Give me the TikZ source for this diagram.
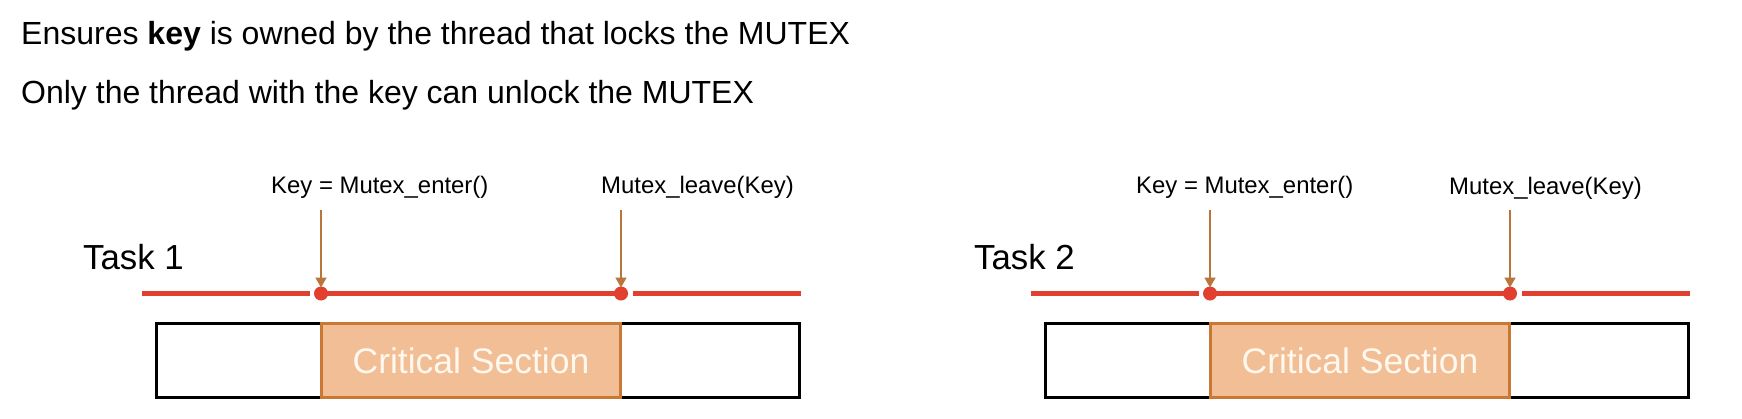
\documentclass[tikz,border=0pt]{standalone}
\usepackage{fontspec}
\setmainfont{Liberation Sans}
\usetikzlibrary{arrows.meta}
\definecolor{redline}{HTML}{E2402F}
\definecolor{arrowc}{HTML}{B8763A}
\definecolor{csfill}{HTML}{F2BE95}
\definecolor{csdraw}{HTML}{C97934}
\definecolor{cstext}{HTML}{FFF8EE}
\begin{document}
\begin{tikzpicture}[x=1pt,y=-1pt,
  titletext/.style={anchor=base west, inner sep=0, font=\fontsize{32}{36}\selectfont},
  tasklbl/.style={anchor=base west, inner sep=0, font=\fontsize{34.8}{40}\selectfont},
  calllbl/.style={anchor=base west, inner sep=0, font=\fontsize{23.9}{28}\selectfont},
  timeline/.style={draw=redline, line width=4.5pt},
  dotnode/.style={circle, fill=redline, inner sep=0, minimum size=14pt},
  callarrow/.style={draw=arrowc, line width=1.8pt, -{Triangle[width=11pt,length=10pt]}, shorten >=6pt},
  taskbox/.style={draw=black, line width=3pt, inner sep=0, minimum width=643pt, minimum height=74pt},
  critbox/.style={draw=csdraw, fill=csfill, line width=3pt, inner sep=0, minimum width=299pt, minimum height=74pt, text=cstext, font=\fontsize{35.5}{40}\selectfont},
]
\useasboundingbox[fill=white] (0,0) rectangle (1742,418);

% title lines
\node[titletext] (t1) at (21,44) {Ensures \textbf{key} is owned by the thread that locks the MUTEX};
\node[titletext] (t2) at (21,103) {Only the thread with the key can unlock the MUTEX};

% ---------- Task 1 ----------
\node[tasklbl] (task1) at (83,269) {Task 1};
\node[calllbl] (e1) at (271,193) {Key = Mutex\_enter()};
\node[calllbl] (l1) at (601,193) {Mutex\_leave(Key)};

\node[taskbox] (box1) at (478,360.5) {};
\node[critbox] (cs1) at (471,360.5) {Critical Section};

\coordinate (ls1) at (142,293.5);
\coordinate (re1) at (801,293.5);
\coordinate (d1) at (321,293.5);
\coordinate (d2) at (621,293.5);
\draw[timeline] (d1) -- (d2);
\node[dotnode] (dot1) at (d1) {};
\node[dotnode] (dot2) at (d2) {};
\draw[timeline, shorten >=4pt] (ls1) -- (dot1.west);
\draw[timeline, shorten <=5pt] (dot2.east) -- (re1);

\coordinate (a1) at (321,210);
\coordinate (a2) at (621,210);
\draw[callarrow] (a1) -- (dot1.center);
\draw[callarrow] (a2) -- (dot2.center);

% ---------- Task 2 ----------
\node[tasklbl] (task2) at (974,269) {Task 2};
\node[calllbl] (e2) at (1136,193) {Key = Mutex\_enter()};
\node[calllbl] (l2) at (1449,194) {Mutex\_leave(Key)};

\node[taskbox] (box2) at (1367,360.5) {};
\node[critbox] (cs2) at (1360,360.5) {Critical Section};

\coordinate (ls2) at (1031,293.5);
\coordinate (re2) at (1690,293.5);
\coordinate (d3) at (1210,293.5);
\coordinate (d4) at (1510,293.5);
\draw[timeline] (d3) -- (d4);
\node[dotnode] (dot3) at (d3) {};
\node[dotnode] (dot4) at (d4) {};
\draw[timeline, shorten >=4pt] (ls2) -- (dot3.west);
\draw[timeline, shorten <=5pt] (dot4.east) -- (re2);

\coordinate (a3) at (1210,210);
\coordinate (a4) at (1510,210);
\draw[callarrow] (a3) -- (dot3.center);
\draw[callarrow] (a4) -- (dot4.center);
\end{tikzpicture}
\end{document}
